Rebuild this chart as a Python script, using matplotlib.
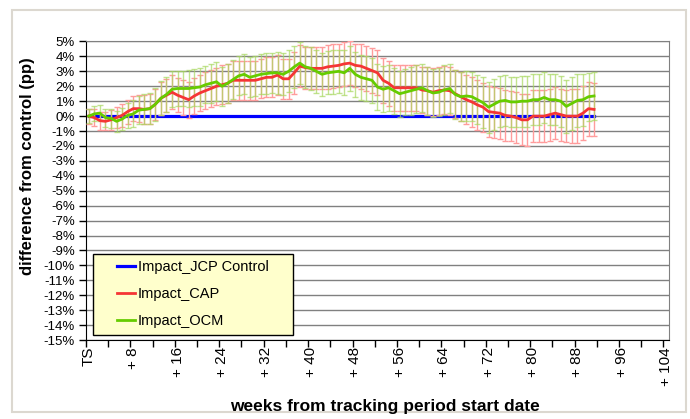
# -*- encoding: utf-8 -*-
import numpy as np
import matplotlib
matplotlib.use("Agg")
import matplotlib.pyplot as plt
from matplotlib.patches import Rectangle
from matplotlib.legend_handler import HandlerLine2D

plt.rcParams['font.family'] = ['Liberation Sans', 'DejaVu Sans']

# weeks from tracking period start (category index)
weeks = list(range(92))

# difference from control, percentage points
control = [0.0] * 92

cap = [0.0, -0.1, -0.3, -0.35, -0.25, -0.1, 0.05, 0.3, 0.5, 0.5,
       0.45, 0.5, 0.8, 1.2, 1.4, 1.6, 1.4, 1.25, 1.1, 1.35,
       1.55, 1.7, 1.85, 2.0, 2.1, 2.2, 2.4, 2.4, 2.4, 2.4,
       2.4, 2.5, 2.6, 2.6, 2.75, 2.5, 2.5, 2.9, 3.35, 3.25,
       3.2, 3.2, 3.2, 3.3, 3.35, 3.4, 3.5, 3.55, 3.4, 3.35,
       3.2, 3.05, 2.9, 2.4, 2.2, 1.9, 1.9, 1.9, 1.9, 1.9,
       1.75, 1.7, 1.6, 1.7, 1.75, 1.7, 1.5, 1.3, 1.1, 0.95,
       0.75, 0.6, 0.3, 0.25, 0.2, 0.05, 0.0, -0.1, -0.25, -0.25,
       0.0, 0.0, 0.0, 0.1, 0.2, 0.1, 0.0, 0.0, 0.0, 0.2,
       0.5, 0.45]

ocm = [0.0, 0.15, 0.2, -0.1, -0.15, -0.35, -0.2, 0.05, 0.15, 0.4,
       0.45, 0.5, 0.8, 1.2, 1.45, 1.8, 1.85, 1.85, 1.85, 1.9,
       1.95, 2.1, 2.2, 2.3, 2.0, 2.2, 2.45, 2.7, 2.8, 2.6,
       2.7, 2.8, 2.85, 2.9, 2.9, 2.8, 3.0, 3.3, 3.55, 3.3,
       3.2, 3.0, 2.8, 2.9, 2.95, 3.0, 2.9, 3.2, 2.8, 2.6,
       2.5, 2.4, 1.95, 1.8, 1.9, 1.7, 1.5, 1.6, 1.7, 1.8,
       1.9, 1.7, 1.55, 1.6, 1.75, 1.85, 1.45, 1.3, 1.35, 1.3,
       1.1, 0.9, 0.6, 0.8, 1.0, 1.05, 0.95, 0.95, 1.0, 1.0,
       1.1, 1.1, 1.25, 1.1, 1.1, 1.0, 0.65, 0.85, 1.05, 1.1,
       1.3, 1.35]

cap_err = [0.5, 0.55, 0.6, 0.6, 0.65, 0.7, 0.75, 0.8, 0.85, 0.9,
           0.95, 1.0, 1.05, 1.1, 1.1, 1.15, 1.15, 1.2, 1.2, 1.2,
           1.2, 1.25, 1.25, 1.25, 1.3, 1.3, 1.3, 1.3, 1.3, 1.3,
           1.3, 1.3, 1.35, 1.35, 1.35, 1.35, 1.35, 1.4, 1.4, 1.4,
           1.4, 1.4, 1.4, 1.45, 1.45, 1.45, 1.45, 1.45, 1.45, 1.5,
           1.5, 1.5, 1.5, 1.5, 1.5, 1.55, 1.55, 1.55, 1.55, 1.55,
           1.55, 1.6, 1.6, 1.6, 1.6, 1.6, 1.6, 1.65, 1.65, 1.65,
           1.65, 1.65, 1.7, 1.7, 1.7, 1.7, 1.7, 1.7, 1.7, 1.75,
           1.75, 1.75, 1.75, 1.75, 1.75, 1.75, 1.75, 1.8, 1.8, 1.8,
           1.8, 1.8]

ocm_err = [0.45, 0.5, 0.55, 0.6, 0.65, 0.7, 0.75, 0.85, 0.9, 0.95,
           1.0, 1.05, 1.1, 1.15, 1.15, 1.2, 1.2, 1.2, 1.25, 1.25,
           1.25, 1.25, 1.3, 1.3, 1.3, 1.3, 1.3, 1.3, 1.35, 1.35,
           1.35, 1.35, 1.35, 1.35, 1.4, 1.4, 1.4, 1.4, 1.4, 1.4,
           1.45, 1.45, 1.45, 1.45, 1.45, 1.45, 1.5, 1.5, 1.5, 1.5,
           1.5, 1.5, 1.55, 1.55, 1.55, 1.55, 1.55, 1.55, 1.6, 1.6,
           1.6, 1.6, 1.6, 1.6, 1.65, 1.65, 1.65, 1.65, 1.65, 1.65,
           1.65, 1.7, 1.7, 1.7, 1.7, 1.7, 1.7, 1.7, 1.7, 1.7,
           1.7, 1.7, 1.7, 1.7, 1.7, 1.7, 1.75, 1.75, 1.75, 1.75,
           1.6, 1.6]

label_weeks = [0, 8, 16, 24, 32, 40, 48, 56, 64, 72, 80, 88, 96, 104]
label_text = ["TS", "+ 8", "+ 16", "+ 24", "+ 32", "+ 40", "+ 48", "+ 56",
              "+ 64", "+ 72", "+ 80", "+ 88", "+ 96", "+ 104"]


def main():
    fig = plt.figure(figsize=(6.9, 4.19), dpi=100)
    ax = fig.add_axes([0.1246, 0.1885, 0.845, 0.7125])

    # outer chart border
    fig.patches.append(Rectangle((12 / 690, 7 / 419), 674 / 690, 402 / 419,
                                 transform=fig.transFigure, fill=False,
                                 edgecolor="#DCD8D0", lw=1.5))

    ax.set_xlim(-0.5, 104.5)
    ax.set_ylim(-15, 5)
    ax.set_yticks(np.arange(-15, 6, 1))
    ax.set_yticklabels([f"{v}%" for v in range(-15, 6)], fontsize=9.5)
    ax.grid(axis="y", color="#808080", lw=1)
    ax.set_axisbelow(True)

    ax.set_xticks(np.arange(-0.5, 104, 4))
    ax.set_xticklabels([])
    ax.set_xticks(label_weeks, minor=True)
    ax.set_xticklabels(label_text, minor=True, rotation=90, fontsize=11,
                       va="top", ha="center")
    ax.tick_params(axis="x", which="minor", length=0, pad=5)
    ax.tick_params(axis="x", which="major", length=5, width=1, direction="out")
    ax.tick_params(axis="y", length=5, width=1, direction="out", pad=3)

    for s in ["top", "right"]:
        ax.spines[s].set_color("#808080")
    for s in ["left", "bottom"]:
        ax.spines[s].set_color("black")

    ax.errorbar(weeks, cap, yerr=cap_err, fmt="none", ecolor="#FF9C9C",
                elinewidth=1, capsize=2.5, capthick=1, zorder=3)
    ax.errorbar(weeks, ocm, yerr=ocm_err, fmt="none", ecolor="#A8D860",
                elinewidth=1, capsize=2.5, capthick=1, alpha=0.7, zorder=3)

    ax.plot(weeks, control, color="#0000FF", lw=2.3, zorder=2.5,
            label="Impact_JCP Control")
    ax.plot(weeks, cap, color="#F53535", lw=2, zorder=4, label="Impact_CAP")
    ax.plot(weeks, ocm, color="#66CC00", lw=2, zorder=5, label="Impact_OCM")

    leg = ax.legend(loc="lower left", bbox_to_anchor=(0.012, 0.017, 0.343, 0.2),
                    mode="expand", borderaxespad=0, fontsize=10.5,
                    fancybox=False, framealpha=1, facecolor="#FFFFCC",
                    edgecolor="black", handlelength=2.42, handletextpad=0.2,
                    labelspacing=0.9, borderpad=0.45,
                    handler_map={plt.Line2D: HandlerLine2D(xpad=1.19)})
    leg.get_frame().set_linewidth(1)
    leg.set_zorder(10)

    fig.text(28 / 690, 1 - 166 / 419, "difference from control (pp)",
             rotation=90, ha="center", va="center", fontsize=12,
             fontweight="bold")
    fig.text(0.5585, 1 - 406 / 419, "weeks from tracking period start date",
             ha="center", va="center", fontsize=12.5, fontweight="bold")

    fig.savefig("out.png", dpi=100)


if __name__ == "__main__":
    main()
